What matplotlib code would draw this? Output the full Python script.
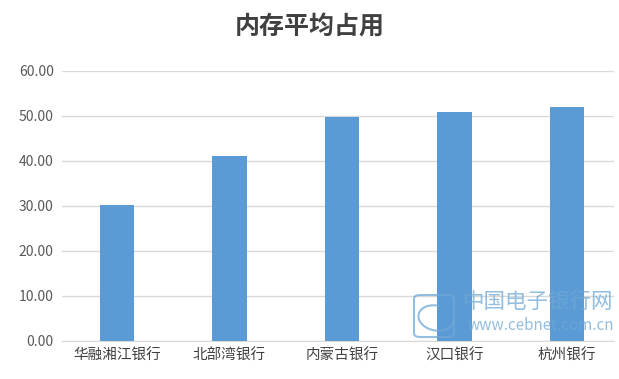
import matplotlib
matplotlib.use("Agg")
import matplotlib.pyplot as plt
from matplotlib.patches import FancyBboxPatch, Arc
import numpy as np

plt.rcParams['font.family'] = ['Noto Sans CJK SC', 'DejaVu Sans']

# data
banks = ['华融湘江银行', '北部湾银行', '内蒙古银行', '汉口银行', '杭州银行']
mem_avg = [30.1, 41.0, 49.8, 50.9, 51.9]
yticks = [0, 10, 20, 30, 40, 50, 60]

fig = plt.figure(figsize=(6.19, 3.79), dpi=100)
ax = fig.add_axes([62/619, 0.101, (614-62)/619, 0.712])

x = np.arange(len(banks))
ax.bar(x, mem_avg, width=0.31, color='#5B9BD5', zorder=3)

ax.set_ylim(0, 60)
ax.set_xlim((62-117)/112.5, (614-117)/112.5)
ax.set_yticks(yticks)
ax.set_yticklabels(['%.2f' % v for v in yticks], color='#595959', fontsize=10)
ax.set_xticks(x)
ax.set_xticklabels(banks, color='#404040', fontsize=10.5)
ax.tick_params(length=0, pad=6)
ax.grid(axis='y', color='#d9d9d9', linewidth=1, zorder=0)
for s in ['top', 'right', 'left']:
    ax.spines[s].set_visible(False)
ax.spines['bottom'].set_color('#d9d9d9')

fig.text(0.5, 0.928, '内存平均占用', ha='center', va='center',
         fontsize=18, fontweight='bold', color='#404040')

# watermark
wm = '#6fa8d6'
fig.text(463/619, 1 - 302/379, '中国电子银行网', ha='left', va='center',
         fontsize=15.5, color=wm, alpha=0.75)
fig.text(468/619, 1 - 326/379, 'www.cebnet.com.cn', ha='left', va='center',
         fontsize=11, color=wm, alpha=0.75)
box = FancyBboxPatch((414/619, 1 - 337/379), 40/619, 42/379,
                     boxstyle='round,pad=0,rounding_size=0.01',
                     transform=fig.transFigure, fill=False,
                     edgecolor=wm, linewidth=1.5, alpha=0.75)
fig.patches.append(box)
fig.add_artist(Arc((436/619, 1 - 318/379), 34/619, 26/379, angle=20,
                   theta1=60, theta2=330, transform=fig.transFigure,
                   color=wm, linewidth=1.5, alpha=0.75))

fig.savefig('out.png', dpi=100, facecolor='white')
